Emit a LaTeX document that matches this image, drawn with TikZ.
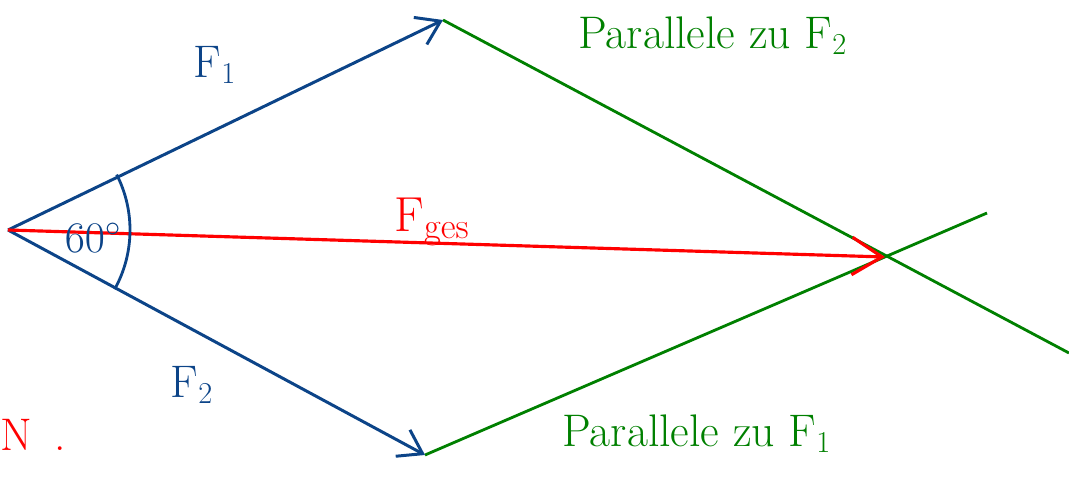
\documentclass[tikz,border=0pt]{standalone}
\usepackage{tikz}
\usetikzlibrary{arrows.meta,positioning}
\definecolor{penblue}{RGB}{12,68,136}
\definecolor{pengreen}{RGB}{0,128,0}
\definecolor{penred}{RGB}{255,0,0}
\tikzset{
    force/.style={
        draw=penblue,
        line width=1.7pt,
        -{Straight Barb[length=0.45cm,width=0.6cm]}
    },
    resultant/.style={
        draw=penred,
        line width=1.8pt,
        -{Straight Barb[length=0.6cm,width=0.75cm]}
    },
    parallel/.style={
        draw=pengreen,
        line width=1.6pt
    },
    anglemark/.style={
        draw=penblue,
        line width=1.6pt
    },
    handtext/.style={
        inner sep=0pt,
        font=\fontsize{26}{30}\selectfont
    }
}

\begin{document}
\begin{tikzpicture}[x=0.02cm,y=0.02cm]
\useasboundingbox (0,0) rectangle (1069,-484);

% points of the parallelogram
\coordinate (O) at (8,-230);
\coordinate (A) at (443,-20);
\coordinate (B) at (425,-455);
\coordinate (R) at (885,-257);
\coordinate (E1) at (1069,-353);
\coordinate (E2) at (987,-213);

% parallels
\draw[parallel] (A) -- (E1);
\draw[parallel] (B) -- (E2);

% forces
\draw[force] (O) -- (A);
\draw[force] (O) -- (B);
\draw[resultant] (O) -- (R);

% angle
\draw[anglemark] (O) ++(27:122) arc[start angle=27, end angle=-29, radius=122];
\node[handtext, text=penblue] (angle) at (93,-238) {$60^\circ$};

% labels
\node[handtext, text=penblue] (F1) at (215,-65) {F$_1$};
\node[handtext, text=penblue] (F2) at (192,-385) {F$_2$};
\node[handtext, text=penred, font=\fontsize{28}{32}\selectfont] (Fges) at (432,-222) {F$_{\mathrm{ges}}$};
\node[handtext, text=pengreen, anchor=base west] (par2) at (578,-48) {Parallele zu F$_2$};
\node[handtext, text=pengreen, anchor=base west] (par1) at (562,-446) {Parallele zu F$_1$};
\node[handtext, text=penred, anchor=base west] (unit) at (0,-450) {N\hspace{0.45cm}.};
\end{tikzpicture}
\end{document}
